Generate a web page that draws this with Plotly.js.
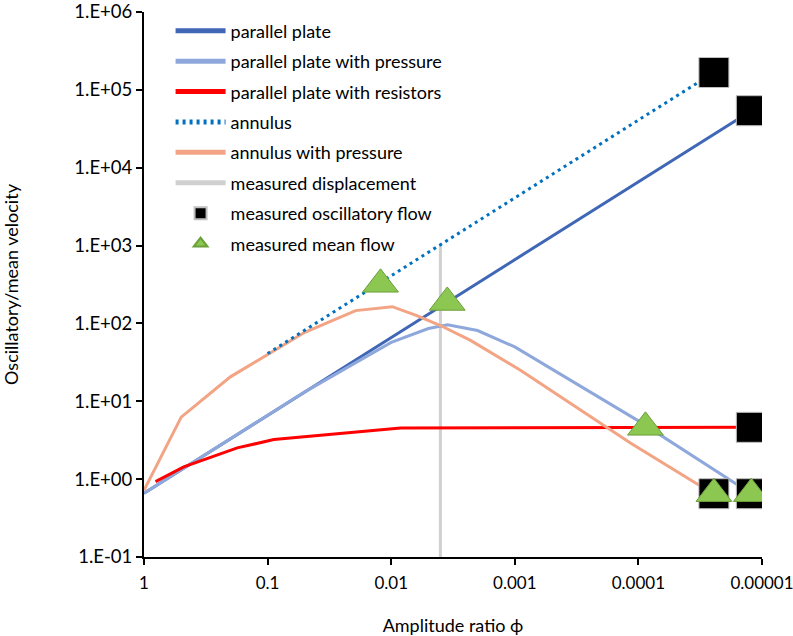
<!DOCTYPE html>
<html>
<head>
<meta charset="utf-8">
<script src="https://cdn.plot.ly/plotly-3.0.1.min.js"></script>
<style>
  html, body { margin: 0; padding: 0; background: #ffffff; }
  #chart { width: 793px; height: 636px; }
</style>
</head>
<body>
<div id="chart"></div>
<script>
// ---- data ----
const xParallel = [1, 0.1, 0.01, 0.001, 0.0001, 0.0000122];
const yParallel = [0.66, 6.6, 66, 660, 6600, 54000];

const xParallelPressure = [1, 0.1, 0.05, 0.02, 0.01, 0.005, 0.0035, 0.002, 0.001, 0.0001, 0.0000122];
const yParallelPressure = [0.66, 6.6, 13.2, 30.5, 57, 86, 96, 81, 50, 5.6, 0.65];

const xResistors = [0.807, 0.477, 0.176, 0.089, 0.0084, 0.001, 0.0000122];
const yResistors = [0.93, 1.44, 2.52, 3.22, 4.55, 4.6, 4.63];

const xAnnulus = [0.1, 0.01, 0.004, 0.001, 0.0001, 0.0000245];
const yAnnulus = [41, 410, 1030, 4100, 41000, 167000];

const xAnnulusPressure = [1, 0.5, 0.2, 0.05, 0.0194, 0.0098, 0.0062, 0.004, 0.00228, 0.0009, 0.000116, 0.0000245];
const yAnnulusPressure = [0.72, 6.25, 20.6, 77, 146, 164, 126, 94, 60.5, 25, 2.92, 0.64];

const xDisplacement = [0.004, 0.004];
const yDisplacement = [0.1, 1030];

const xOscillatory = [0.0000245, 0.0000122, 0.0000122, 0.0000245, 0.0000122];
const yOscillatory = [167000, 54000, 4.63, 0.65, 0.65];

const xMeanFlow = [0.0122, 0.00352, 0.0000877, 0.0000245, 0.0000122];
const yMeanFlow = [318, 186, 4.63, 0.65, 0.65];

const xTickVals = [1, 0.1, 0.01, 0.001, 0.0001, 0.00001];
const xTickText = ['1', '0.1', '0.01', '0.001', '0.0001', '0.00001'];
const yTickVals = [0.1, 1, 10, 100, 1000, 10000, 100000, 1000000];
const yTickText = ['1.E-01', '1.E+00', '1.E+01', '1.E+02', '1.E+03', '1.E+04', '1.E+05', '1.E+06'];

// ---- traces ----
const traces = [
  { name: 'measured displacement', x: xDisplacement, y: yDisplacement, mode: 'lines',
    line: { color: '#D0D0D0', width: 3 }, legendrank: 6, legendgroup: 'g6' },
  { name: 'parallel plate', x: xParallel, y: yParallel, mode: 'lines',
    line: { color: '#3F67B6', width: 3 }, legendrank: 1, legendgroup: 'g1' },
  { name: 'parallel plate with pressure', x: xParallelPressure, y: yParallelPressure, mode: 'lines',
    line: { color: '#8FA8DC', width: 3 }, legendrank: 2, legendgroup: 'g2' },
  { name: 'parallel plate with resistors', x: xResistors, y: yResistors, mode: 'lines',
    line: { color: '#FF0000', width: 3 }, legendrank: 3, legendgroup: 'g3' },
  { name: 'annulus with pressure', x: xAnnulusPressure, y: yAnnulusPressure, mode: 'lines',
    line: { color: '#F2A484', width: 3 }, legendrank: 5, legendgroup: 'g5' },
  { name: 'annulus', x: xAnnulus, y: yAnnulus, mode: 'lines',
    line: { color: '#0070C0', width: 3, dash: '3px,4px' }, legendrank: 4, legendgroup: 'g4' },
  { name: 'measured oscillatory flow', x: xOscillatory, y: yOscillatory, mode: 'markers',
    marker: { symbol: 'square', size: 30, color: '#000000', line: { color: '#BFBFBF', width: 1 } },
    legendrank: 7, legendgroup: 'g7' },
  { name: 'measured mean flow', x: xMeanFlow, y: yMeanFlow, mode: 'markers',
    marker: { symbol: 'triangle-up', size: 31, color: '#8CC751', line: { color: '#6B9F3A', width: 1 } },
    legendrank: 8, legendgroup: 'g8' }
];
traces.forEach(t => { t.type = 'scatter'; t.hoverinfo = 'skip'; });

const xTickFont = { family: 'Lato, sans-serif', size: 17, color: '#000000' };
const yTickFont = { family: 'Lato, sans-serif', size: 18.5, color: '#000000' };
const titleFont = { family: 'Lato, sans-serif', size: 18, color: '#000000' };

const layout = {
  width: 793, height: 636,
  margin: { l: 143.5, r: 31.3, t: 12, b: 79.3, pad: 0 },
  paper_bgcolor: '#ffffff', plot_bgcolor: '#ffffff',
  font: titleFont,
  showlegend: true,
  xaxis: {
    type: 'log', range: [0, -5],
    tickmode: 'array', tickvals: xTickVals, ticktext: xTickText,
    ticks: 'outside', ticklen: 6, tickwidth: 2, tickcolor: '#000000',
    showline: true, linewidth: 2, linecolor: '#000000',
    showgrid: false, zeroline: false, automargin: false,
    ticklabeloverflow: 'allow', ticklabelstandoff: 4,
    tickfont: xTickFont,
    title: { text: 'Amplitude ratio ϕ', font: titleFont, standoff: 34 }
  },
  yaxis: {
    type: 'log', range: [-1, 6],
    tickmode: 'array', tickvals: yTickVals, ticktext: yTickText,
    ticks: 'outside', ticklen: 6, tickwidth: 2, tickcolor: '#000000',
    showline: true, linewidth: 2, linecolor: '#000000',
    showgrid: false, zeroline: false, automargin: false,
    ticklabeloverflow: 'allow',
    tickfont: yTickFont,
    title: { text: 'Oscillatory/mean velocity', font: titleFont, standoff: 62 }
  },
  legend: {
    x: 0.043, y: 0.999, xanchor: 'left', yanchor: 'top',
    bgcolor: 'rgba(0,0,0,0)', borderwidth: 0,
    font: { family: 'Lato, sans-serif', size: 18, color: '#000000' },
    traceorder: 'grouped', tracegroupgap: 4,
    itemsizing: 'constant', itemwidth: 50
  }
};

Plotly.newPlot('chart', traces, layout, { staticPlot: true, displayModeBar: false });
</script>
</body>
</html>
